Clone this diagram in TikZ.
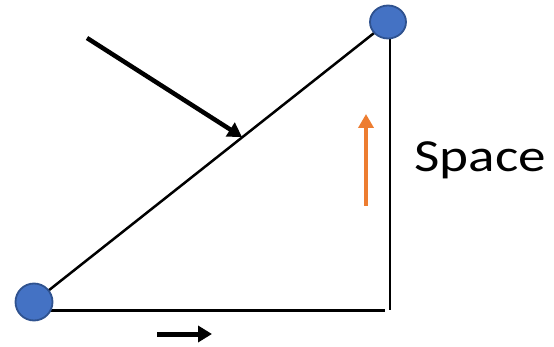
\documentclass[tikz,border=0pt]{standalone}
\usepackage{fontspec}
\setmainfont{Carlito}
\usetikzlibrary{arrows.meta,shapes.geometric,backgrounds}
\definecolor{dotfill}{HTML}{4472C4}
\definecolor{dotline}{HTML}{2F528F}
\definecolor{orangearr}{HTML}{ED7D31}
\begin{document}
\begin{tikzpicture}[x=1pt,y=-1pt,
  dot/.style={ellipse, draw=dotline, line width=1.8pt, fill=dotfill, inner sep=0pt},
  edge/.style={line width=2.5pt},
  bigarrow/.style={line width=4.5pt, -{Triangle[length=14pt,width=16pt]}},
  smallarrow/.style={line width=5pt, -{Triangle[length=14pt,width=16pt]}},
  uparrow/.style={line width=4.5pt, orangearr, -{Triangle[length=14pt,width=15pt]}}]
\path[use as bounding box] (0,0) rectangle (554,347);
\coordinate (h) at (385,310.5);
\coordinate (v) at (390,310);
\coordinate (b1) at (87,38);
\coordinate (b2) at (242,137);
\coordinate (s1) at (157,334);
\coordinate (s2) at (212,334);
\coordinate (o1) at (366,206);
\coordinate (o2) at (366,114);
\node[dot, minimum width=37pt, minimum height=37pt] (a) at (34,302) {};
\node[dot, minimum width=36pt, minimum height=33pt] (b) at (388,22) {};
\begin{scope}[on background layer]
\draw[edge] (a.center) -- (b.center);
\draw[edge] (a.center |- h) -- (h);
\draw[edge] (v |- b.center) -- (v);
\end{scope}
\draw[bigarrow] (b1) -- (b2);
\draw[smallarrow] (s1) -- (s2);
\draw[uparrow] (o1) -- (o2);
\node[anchor=base west, inner sep=0pt, font=\fontsize{46}{50}\selectfont, xscale=1.2] (t) at (414,172) {Space};
\end{tikzpicture}
\end{document}
